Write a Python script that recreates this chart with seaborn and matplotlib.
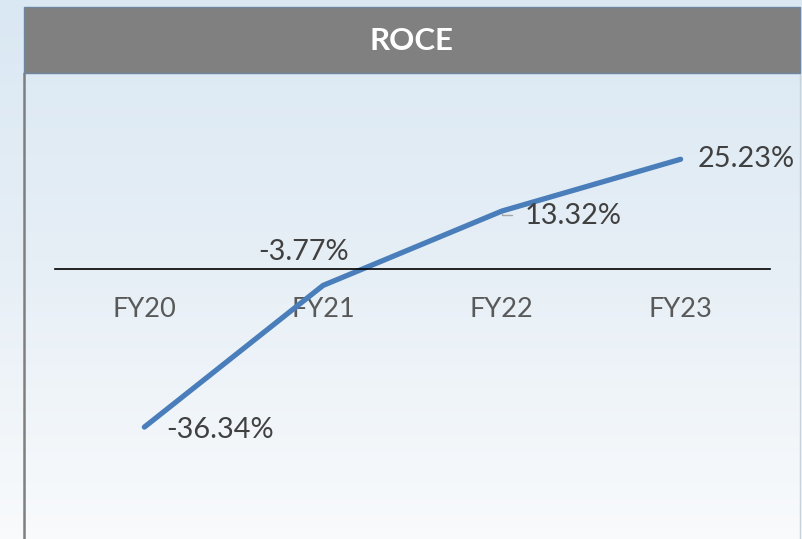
import numpy as np
import pandas as pd
import seaborn as sns
import matplotlib.pyplot as plt
from matplotlib.patches import Rectangle
from matplotlib.lines import Line2D

years = ["FY20", "FY21", "FY22", "FY23"]
roce = [-36.34, -3.77, 13.32, 25.23]
labels = ["-36.34%", "-3.77%", "13.32%", "25.23%"]

LINE_COLOR = "#4a7ebb"
TEXT_COLOR = "#404040"
TICK_COLOR = "#595959"
HEADER_COLOR = "#808080"

sns.set_theme(style="white")
plt.rcParams["font.family"] = ["Lato", "DejaVu Sans"]

W, H = 803, 539
fig = plt.figure(figsize=(W / 100, H / 100), dpi=100)

# background gradient across the whole figure
bg = fig.add_axes([0, 0, 1, 1], zorder=-10)
top = np.array([0.855, 0.910, 0.955])
mid = np.array([0.905, 0.937, 0.965])
bot = np.array([0.975, 0.982, 0.988])
t = np.linspace(0, 1, 300)[:, None]
grad = np.where(t < 0.5, top + (mid - top) * (t / 0.5), mid + (bot - mid) * ((t - 0.5) / 0.5))
bg.imshow(grad[:, None, :].repeat(2, axis=1), aspect="auto", extent=[0, 1, 0, 1])
bg.set_axis_off()

# header bar
def fx(px):
    return px / W

def fy(py):
    return 1 - py / H

fig.patches.append(Rectangle((fx(24), fy(73)), fx(776), 66 / H, transform=fig.transFigure,
                             facecolor=HEADER_COLOR, edgecolor="#6f86a0", linewidth=1.0, zorder=5))
fig.text(fx(412), fy(41), "ROCE", color="white", fontsize=22.5, fontweight="bold",
         ha="center", va="center", zorder=6)
fig.lines.append(Line2D([fx(24), fx(24)], [0, fy(73)], transform=fig.transFigure,
                        color="#7f7f7f", linewidth=1.8, zorder=5))
fig.lines.append(Line2D([fx(800), fx(800)], [0, fy(73)], transform=fig.transFigure,
                        color="#c8d2dc", linewidth=1.0, zorder=5))

# plot area
ax_top, ax_bot = 100, 520
ppu = 4.35
ax = fig.add_axes([fx(55), fy(ax_bot), fx(715), (ax_bot - ax_top) / H])
ax.patch.set_alpha(0)
df = pd.DataFrame({"year": years, "roce": roce})
sns.lineplot(data=df, x="year", y="roce", ax=ax, color=LINE_COLOR, linewidth=3.8,
             sort=False, solid_capstyle="round")
ax.set_xlim(-0.5, 3.5)
ax.set_ylim(-(ax_bot - 269) / ppu, (269 - ax_top) / ppu)

for s in ["top", "right", "left"]:
    ax.spines[s].set_visible(False)
ax.spines["bottom"].set_position(("data", 0))
ax.spines["bottom"].set_color("black")
ax.spines["bottom"].set_linewidth(1.2)
ax.set_yticks([])
ax.set_xticks(range(len(years)))
ax.set_xticklabels(years)
ax.tick_params(axis="x", length=0, pad=20, labelsize=19.5, labelcolor=TICK_COLOR)
ax.set_xlabel("")
ax.set_ylabel("")

offsets = [(16, -2, "left"), (-14, 24, "center"), (16.5, -3.6, "left"), (12, 0, "left")]
for i, (v, lab) in enumerate(zip(roce, labels)):
    dx, dy, ha = offsets[i]
    ax.annotate(lab, (i, v), xytext=(dx, dy), textcoords="offset points",
                ha=ha, va="center", fontsize=20.8, color=TEXT_COLOR)

# small leader line by the FY22 label
ax.annotate("", (2, roce[2]), xytext=(9, -2.5), textcoords="offset points",
            arrowprops=dict(arrowstyle="-", color="#a6a6a6", lw=1.0,
                            connectionstyle="angle,angleA=0,angleB=90,rad=0"))

fig.savefig("out.png", dpi=100)
